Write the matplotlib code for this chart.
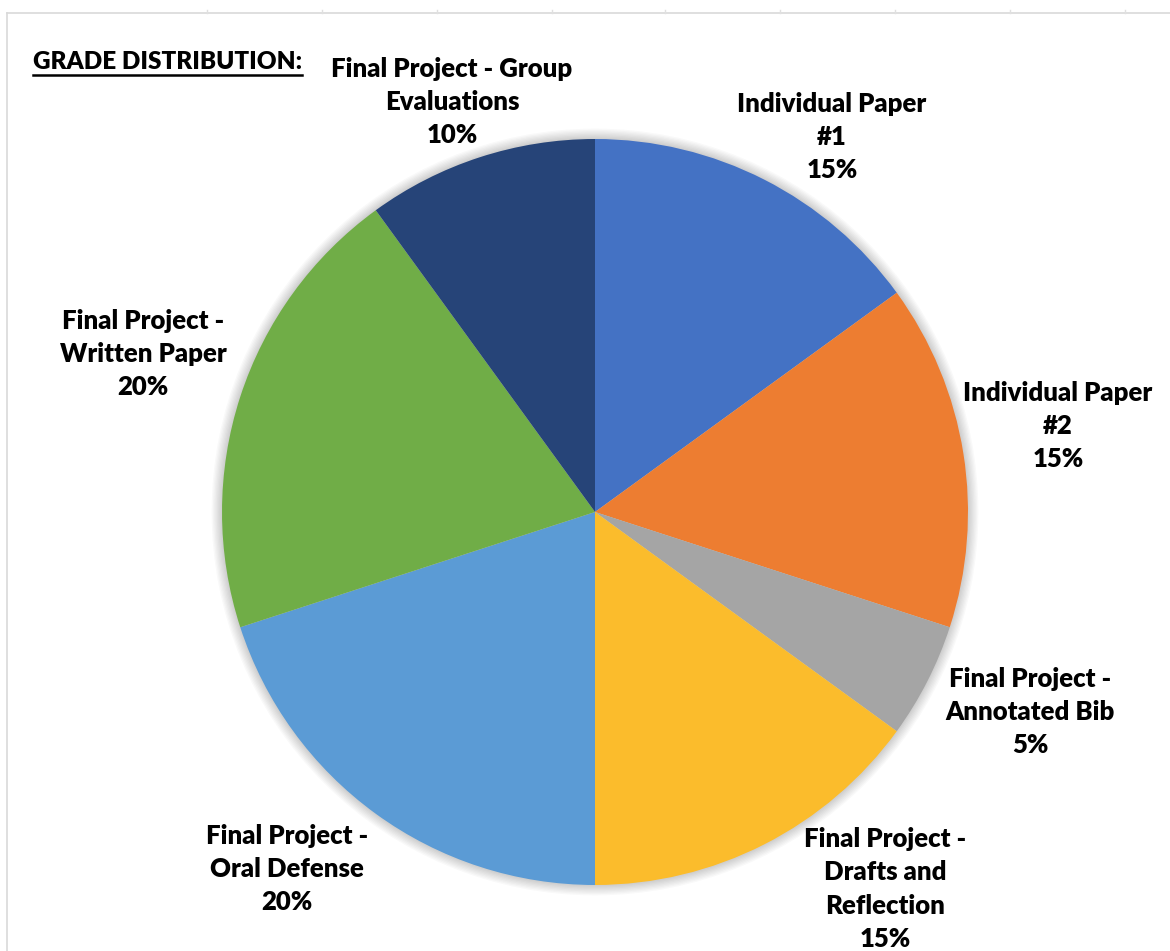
import matplotlib
matplotlib.use("Agg")
import matplotlib.pyplot as plt
from matplotlib.patches import Circle
from matplotlib.lines import Line2D

# ---- data ----
categories = [
    "Individual Paper\n#1",
    "Individual Paper\n#2",
    "Final Project -\nAnnotated Bib",
    "Final Project -\nDrafts and\nReflection",
    "Final Project -\nOral Defense",
    "Final Project -\nWritten Paper",
    "Final Project - Group\nEvaluations",
]
values = [15, 15, 5, 15, 20, 20, 10]
colors = ["#4472C4", "#ED7D31", "#A5A5A5", "#FBBC2C", "#5B9BD5", "#70AD47", "#264478"]
title = "GRADE DISTRIBUTION:"

W, H, DPI = 1170, 951, 100
CX, CY, R = 595, 512, 373  # pixel centre & radius

fig = plt.figure(figsize=(W / DPI, H / DPI), dpi=DPI)
ax = fig.add_axes([0, 0, 1, 1])

def px(x, y):
    return (x - CX) / R, (CY - y) / R

# soft shadow
for i in range(8):
    ax.add_patch(Circle((0, 0), 1 + 0.0035 * (i + 1), color="black",
                        alpha=0.025, lw=0, zorder=0))

wedges, _ = ax.pie(values, colors=colors, startangle=90, counterclock=False,
                   radius=1, center=(0, 0), frame=True,
                   wedgeprops=dict(linewidth=0, zorder=2))
ax.set_xlim(-CX / R, (W - CX) / R)
ax.set_ylim(-(H - CY) / R, CY / R)
ax.set_aspect("equal")
ax.axis("off")

# label positions (pixel centres of the text blocks)
label_pos = [(832, 137), (1058, 426), (1030, 712), (885, 889),
             (287, 869), (143, 354), (452, 102)]
font = dict(family=["Lato", "DejaVu Sans"], weight="heavy", fontsize=18.5)
for cat, v, (x, y) in zip(categories, values, label_pos):
    ax.text(*px(x, y), f"{cat}\n{v}%", ha="center", va="center",
            linespacing=1.47, color="black", zorder=5, **font)

tfont = dict(font, fontsize=17.5)
t = ax.text(*px(33, 62), title, ha="left", va="center", color="black",
            zorder=5, **tfont)

# frame lines (spreadsheet border)
fig.add_artist(Line2D([7 / W, 1], [1 - 13 / H, 1 - 13 / H], color="#d9d9d9",
                      lw=1.2, transform=fig.transFigure))
fig.add_artist(Line2D([7 / W, 7 / W], [0, 1 - 13 / H], color="#d9d9d9",
                      lw=1.2, transform=fig.transFigure))
for xt in [207, 322, 437, 552, 665, 780, 895, 1010, 1125]:
    fig.add_artist(Line2D([xt / W, xt / W], [1 - 10 / H, 1 - 13 / H],
                          color="#e0e0e0", lw=1, transform=fig.transFigure))

# underline title
fig.canvas.draw()
bb = t.get_window_extent(fig.canvas.get_renderer()).transformed(fig.transFigure.inverted())
fig.add_artist(Line2D([bb.x0, bb.x1], [bb.y0 - 0.002, bb.y0 - 0.002], color="black",
                      lw=1.8, transform=fig.transFigure))

fig.savefig("out.png", dpi=DPI, facecolor="white")
